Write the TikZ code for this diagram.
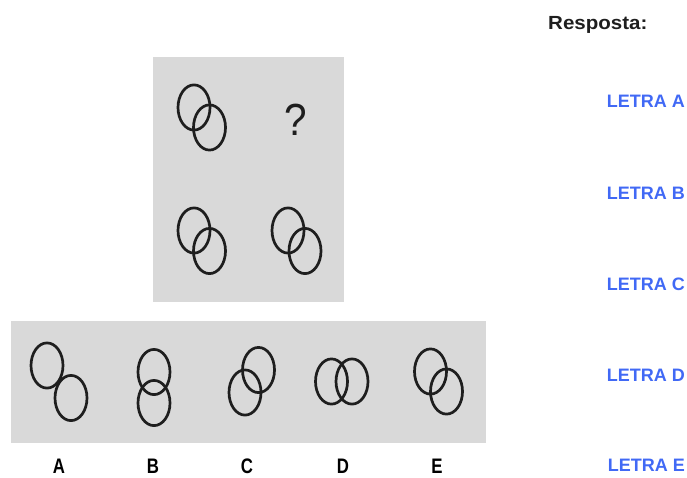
\documentclass[tikz,border=0pt]{standalone}
\usepackage{fontspec}
\setmainfont{Liberation Sans}
\usepackage{tikz}
\definecolor{Panel}{HTML}{D9D9D9}
\definecolor{Letra}{HTML}{4169F5}
\definecolor{Ink}{HTML}{1E1E1E}
\usetikzlibrary{positioning}

\begin{document}
\begin{tikzpicture}[x=1pt, y=-1pt,
    ring/.style={line width=2.7pt, Ink},
    answer/.style={font=\bfseries\fontsize{18}{20}\selectfont, text=Letra, anchor=east, inner sep=0pt},
    option/.style={font=\bfseries\fontsize{21}{23}\selectfont, xscale=.8, anchor=base, inner sep=0pt}]
\useasboundingbox (0,0) rectangle (687,478);
\fill[Panel] (153,57) rectangle (344,302);
\fill[Panel] (11,321) rectangle (486,443);
% pairs listed top to bottom, left to right
\draw[ring] (194,107.5) ellipse (16 and 22.6);
\draw[ring] (209.5,127.5) ellipse (16 and 22.6);
\draw[ring] (194,230.5) ellipse (16 and 22.6);
\draw[ring] (209.5,251) ellipse (16 and 22.6);
\draw[ring] (288,230.5) ellipse (16 and 22.6);
\draw[ring] (305,251) ellipse (16 and 22.6);
% options A to E
\draw[ring] (47,365.5) ellipse (16 and 22.6);
\draw[ring] (71,398) ellipse (16 and 22.6);
\draw[ring] (154,372) ellipse (16 and 22.6);
\draw[ring] (154,403) ellipse (16 and 22.6);
\draw[ring] (258.5,370) ellipse (16 and 22.6);
\draw[ring] (245,392.5) ellipse (16 and 22.6);
\draw[ring] (331.5,381.5) ellipse (16 and 22.6);
\draw[ring] (352,381.5) ellipse (16 and 22.6);
\draw[ring] (430.5,371.5) ellipse (16 and 22.6);
\draw[ring] (446.5,391.5) ellipse (16 and 22.6);
\node[anchor=base, text=Ink, font=\fontsize{45}{48}\selectfont, xscale=.9] (quest) at (296,136) {?};
\path (59,473.5) node[option] (optA) {A}
      (153,473.5) node[option] (optB) {B}
      (247,473.5) node[option] (optC) {C}
      (343,473.5) node[option] (optD) {D}
      (437,473.5) node[option] (optE) {E};
\node[anchor=base west, text=Ink, font=\bfseries\fontsize{19}{22}\selectfont, xscale=1.08, inner sep=0pt] (resp) at (548,30) {Resposta:};
\path (685,101) node[answer] (letraA) {LETRA A}
      (685,193) node[answer] (letraB) {LETRA B}
      (685,284) node[answer] (letraC) {LETRA C}
      (685,375) node[answer] (letraD) {LETRA D}
      (685,465) node[answer] (letraE) {LETRA E};
\end{tikzpicture}
\end{document}
